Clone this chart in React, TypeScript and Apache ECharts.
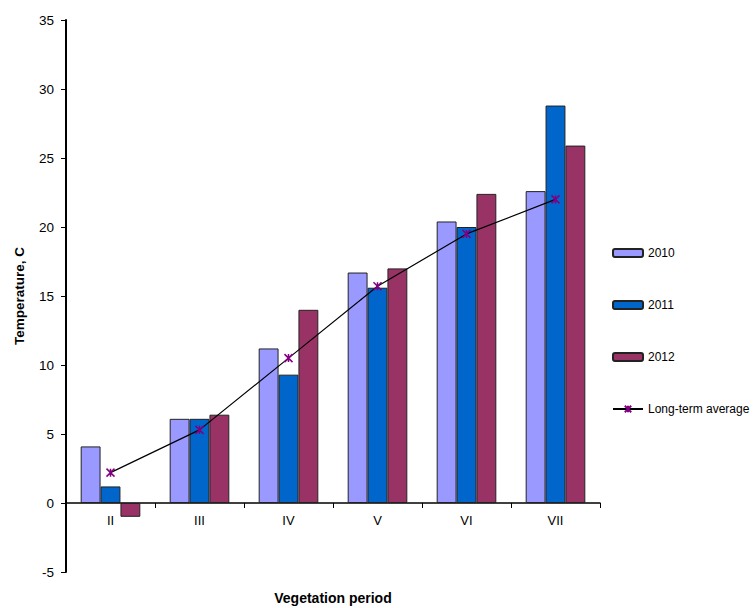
import React, { useEffect, useRef } from "react";
import * as echarts from "echarts";

const categories = ["II", "III", "IV", "V", "VI", "VII"];
const s2010 = [4.1, 6.1, 11.2, 16.7, 20.4, 22.6];
const s2011 = [1.2, 6.1, 9.3, 15.6, 20.0, 28.8];
const s2012 = [-1.0, 6.4, 14.0, 17.0, 22.4, 25.9];
const longTerm = [2.2, 5.3, 10.5, 15.7, 19.5, 22.0];

const FONT = "Liberation Sans, Arial, sans-serif";
const starPath = "path://M0,0L10,10M10,0L0,10M5,0L5,10";

export default function App() {
  const ref = useRef<HTMLDivElement>(null);
  useEffect(() => {
    const chart = echarts.init(ref.current!, null, { renderer: "svg" });
    const barStyle = (c: string) => ({ color: c, borderColor: "#222", borderWidth: 1 });
    chart.setOption({
      animation: false,
      textStyle: { fontFamily: FONT },
      grid: { left: 66, top: 20, right: 154, bottom: 36, containLabel: false, outerBoundsMode: "none" },
      legend: {
        orient: "vertical",
        left: 607,
        top: 242,
        itemWidth: 30,
        itemHeight: 8,
        itemGap: 40,
        textStyle: { fontSize: 12, color: "#000", fontFamily: FONT },
        data: ["2010", "2011", "2012", "Long-term average"],
      },
      xAxis: {
        type: "category",
        data: categories,
        name: "Vegetation period",
        nameLocation: "middle",
        nameGap: 88,
        offset: -69,
        nameTextStyle: { fontWeight: "bold", fontSize: 14, color: "#000" },
        axisLine: { onZero: false, lineStyle: { color: "#000", width: 1.5 } },
        axisTick: { show: true, alignWithLabel: false, length: 5, lineStyle: { color: "#000" } },
        axisLabel: { color: "#000", fontSize: 13, margin: 11 },
      },
      yAxis: {
        type: "value",
        min: -5,
        max: 35,
        interval: 5,
        name: "Temperature, C",
        nameLocation: "middle",
        nameGap: 40,
        nameTextStyle: { fontWeight: "bold", fontSize: 13.5, color: "#000" },
        axisLine: { show: true, lineStyle: { color: "#000", width: 2 } },
        axisTick: { show: true, length: 5, lineStyle: { color: "#000" } },
        axisLabel: { color: "#000", fontSize: 13.5, margin: 12 },
        splitLine: { show: false },
      },
      series: [
        { name: "2010", type: "bar", data: s2010, barGap: "0%", barCategoryGap: "33%", itemStyle: barStyle("#9999FF") },
        { name: "2011", type: "bar", data: s2011, itemStyle: barStyle("#0066CC") },
        { name: "2012", type: "bar", data: s2012, itemStyle: barStyle("#993366") },
        {
          name: "Long-term average",
          type: "line",
          data: longTerm,
          symbol: starPath,
          symbolSize: 8,
          lineStyle: { color: "#000", width: 1.2 },
          itemStyle: { color: "#800080", borderColor: "#800080", borderWidth: 1.5 },
          z: 5,
        },
      ],
    });
    return () => chart.dispose();
  }, []);
  return <div ref={ref} style={{ position: "absolute", left: 0, top: 0, width: 754, height: 608 }} />;
}
